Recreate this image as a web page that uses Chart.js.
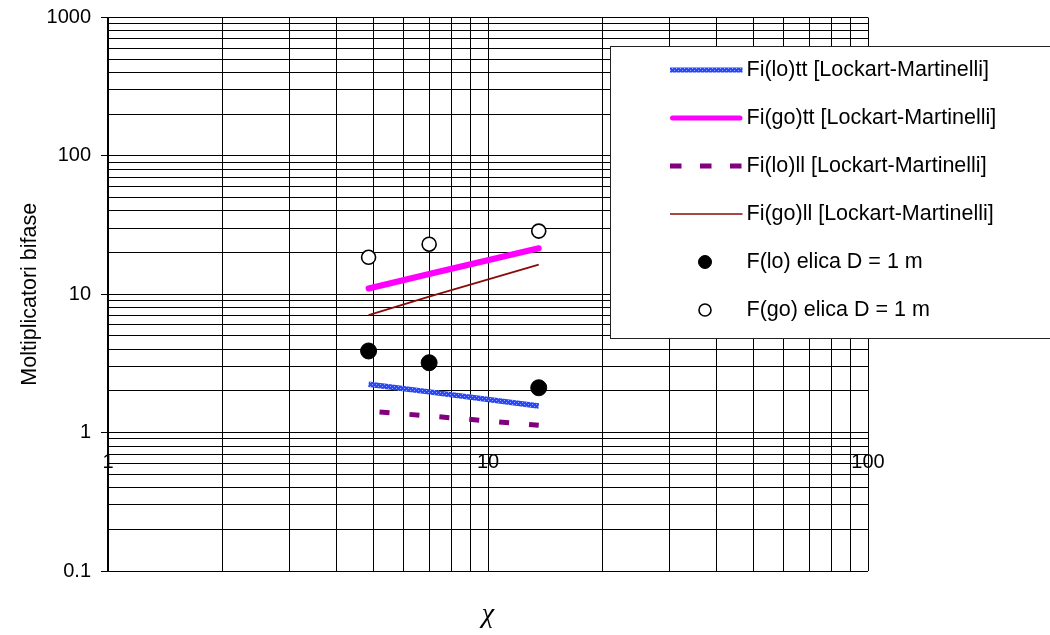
<!DOCTYPE html>
<html><head><meta charset="utf-8">
<script src="https://cdn.jsdelivr.net/npm/chart.js@4.4.1/dist/chart.umd.min.js"></script>
<style>html,body{margin:0;padding:0;background:#fff;}#wrap{width:1050px;height:635px;position:relative;}</style>
</head><body><div id="wrap"><canvas id="c" width="1050" height="635"></canvas></div>
<script>
// ---- data ----
const chiValues = [4.85, 7.0, 13.6];
const fiLoTT   = [2.24, 1.97, 1.56];
const fiGoTT   = [11.0, 14.0, 21.5];
const fiLoLL   = [1.43, 1.32, 1.13];
const fiGoLL   = [7.07, 9.6, 16.4];
const fLoElica = [3.89, 3.20, 2.11];
const fGoElica = [18.5, 23.0, 28.6];
const seriesLabels = [
  'Fi(lo)tt [Lockart-Martinelli]',
  'Fi(go)tt [Lockart-Martinelli]',
  'Fi(lo)ll [Lockart-Martinelli]',
  'Fi(go)ll [Lockart-Martinelli]',
  'F(lo) elica D = 1 m',
  'F(go) elica D = 1 m'
];
const xTickLabels = ['1', '10', '100'];
const yTickLabels = ['0.1', '1', '10', '100', '1000'];
const xTitle = 'χ';
const yTitle = 'Moltiplicatori bifase';

Chart.defaults.font.family = "'Liberation Sans', Arial, sans-serif";
Chart.defaults.color = '#000';

function pts(ys) { return chiValues.map((x, i) => ({x: x, y: ys[i]})); }

// log gridline ticks: decades (major, labelled) + 2..9 multiples (minor)
function buildLogTicks(labels) {
  const dec = labels.map(Number);
  const out = [];
  for (let i = 0; i < dec.length; i++) {
    out.push({value: dec[i], major: true, label: labels[i]});
    if (i < dec.length - 1) {
      for (let k = 2; k <= 9; k++) out.push({value: +(dec[i] * k).toPrecision(6), major: false, label: ''});
    }
  }
  return out;
}
function tickCb(value, index, ticks) { return ticks[index] && ticks[index].major ? ticks[index].label : ''; }

const cv = document.getElementById('c');
const ctx0 = cv.getContext('2d');
function bluePattern() {
  const c = document.createElement('canvas'); c.width = 4; c.height = 4;
  const g = c.getContext('2d');
  g.fillStyle = '#2646ff'; g.fillRect(0, 0, 4, 4);
  g.fillStyle = '#9aaaff'; g.fillRect(0, 0, 1, 1); g.fillRect(2, 2, 1, 1);
  return ctx0.createPattern(c, 'repeat');
}
const bluePat = bluePattern();

const legendPlugin = {
  id: 'excelLegend',
  afterDraw(chart) {
    const ctx = chart.ctx;
    ctx.save();
    ctx.fillStyle = '#fff'; ctx.strokeStyle = '#222'; ctx.lineWidth = 1;
    ctx.fillRect(610.5, 46.5, 441, 292);
    ctx.strokeRect(610.5, 46.5, 441, 292);
    ctx.font = "21.5px 'Liberation Sans', Arial, sans-serif";
    ctx.textBaseline = 'middle'; ctx.textAlign = 'left';
    chart.data.datasets.forEach((ds, i) => {
      const y = 70 + 48 * i;
      if (ds.showLine) {
        ctx.save();
        ctx.beginPath();
        ctx.strokeStyle = ds.legendColor || ds.borderColor;
        ctx.lineWidth = ds.legendWidth;
        ctx.lineCap = ds.borderCapStyle || 'butt';
        ctx.setLineDash(ds.legendDash || []);
        const pad = ctx.lineCap === 'round' ? ds.legendWidth / 2 : 0;
        ctx.moveTo(670 + pad, y); ctx.lineTo(742.5 - pad, y);
        ctx.stroke();
        ctx.restore();
      } else {
        ctx.save();
        ctx.beginPath();
        ctx.arc(705, y, ds.legendRadius, 0, Math.PI * 2);
        ctx.fillStyle = ds.backgroundColor; ctx.fill();
        ctx.lineWidth = ds.borderWidth; ctx.strokeStyle = ds.borderColor; ctx.stroke();
        ctx.restore();
      }
      ctx.fillStyle = '#000';
      ctx.fillText(ds.label, 746.5, y);
    });
    ctx.restore();
  }
};

new Chart(cv, {
  type: 'scatter',
  data: {
    datasets: [
      {label: seriesLabels[0], data: pts(fiLoTT), showLine: true, borderColor: bluePat, legendColor: bluePat,
       borderWidth: 5.5, legendWidth: 5, pointRadius: 0, xAxisID: 'x', yAxisID: 'y'},
      {label: seriesLabels[1], data: pts(fiGoTT), showLine: true, borderColor: '#ff00ff', borderWidth: 6,
       legendWidth: 5, borderCapStyle: 'round', pointRadius: 0, xAxisID: 'x', yAxisID: 'y'},
      {label: seriesLabels[2], data: pts(fiLoLL), showLine: true, borderColor: '#800080', borderWidth: 5,
       borderDash: [10, 20], borderDashOffset: 19, legendWidth: 5, legendDash: [11.5, 18.5],
       pointRadius: 0, xAxisID: 'x', yAxisID: 'y'},
      {label: seriesLabels[3], data: pts(fiGoLL), showLine: true, borderColor: '#8b0a0a', borderWidth: 1.8,
       legendWidth: 1.6, pointRadius: 0, xAxisID: 'x', yAxisID: 'y'},
      {label: seriesLabels[4], data: pts(fLoElica), showLine: false, pointStyle: 'circle', pointRadius: 8,
       backgroundColor: '#000', borderColor: '#000', borderWidth: 1, legendRadius: 6.5, xAxisID: 'x', yAxisID: 'y'},
      {label: seriesLabels[5], data: pts(fGoElica), showLine: false, pointStyle: 'circle', pointRadius: 7,
       backgroundColor: '#fff', borderColor: '#000', borderWidth: 1.6, legendRadius: 6, xAxisID: 'x', yAxisID: 'y'}
    ]
  },
  options: {
    responsive: false,
    animation: false,
    events: [],
    layout: {padding: {left: 0, top: 17.5, right: 182, bottom: 0}},
    plugins: {legend: {display: false}, tooltip: {enabled: false}, title: {display: false}},
    scales: {
      x: {
        type: 'logarithmic', min: 1, max: 100, position: {y: 1},
        afterBuildTicks: s => { s.ticks = buildLogTicks(xTickLabels); },
        grid: {color: '#000', lineWidth: 1, drawTicks: true, tickLength: 6, tickColor: '#000'},
        border: {display: true, color: '#000', width: 1},
        ticks: {autoSkip: false, maxRotation: 0, minRotation: 0, padding: 12, color: '#000',
                font: {size: 20}, callback: tickCb}
      },
      xt: {
        type: 'linear', position: 'bottom', min: 0, max: 1, display: true,
        grid: {display: false, drawTicks: false}, border: {display: false},
        ticks: {display: false},
        title: {display: true, text: xTitle, color: '#000',
                font: {family: "'Liberation Serif', 'Times New Roman', serif", size: 28, style: 'italic'},
                padding: {top: 0, bottom: 4}},
        afterFit: s => { s.height = 64; }
      },
      y: {
        type: 'logarithmic', min: 0.1, max: 1000, position: 'left',
        afterBuildTicks: s => { s.ticks = buildLogTicks(yTickLabels); },
        afterFit: s => { s.width = 108; s.paddingTop = 12; s.paddingBottom = 12; },
        grid: {color: '#000', lineWidth: 1, drawTicks: true, tickLength: 7,
               tickColor: c => (c.tick && c.tick.major) ? '#000' : 'rgba(0,0,0,0)'},
        border: {display: true, color: '#000', width: 1.2},
        ticks: {autoSkip: false, padding: 10, color: '#000', font: {size: 20}, callback: tickCb},
        title: {display: true, text: yTitle, color: '#000', font: {size: 21.5}, padding: {top: 17, bottom: 0}}
      }
    }
  },
  plugins: [legendPlugin]
});
</script>
</body></html>
